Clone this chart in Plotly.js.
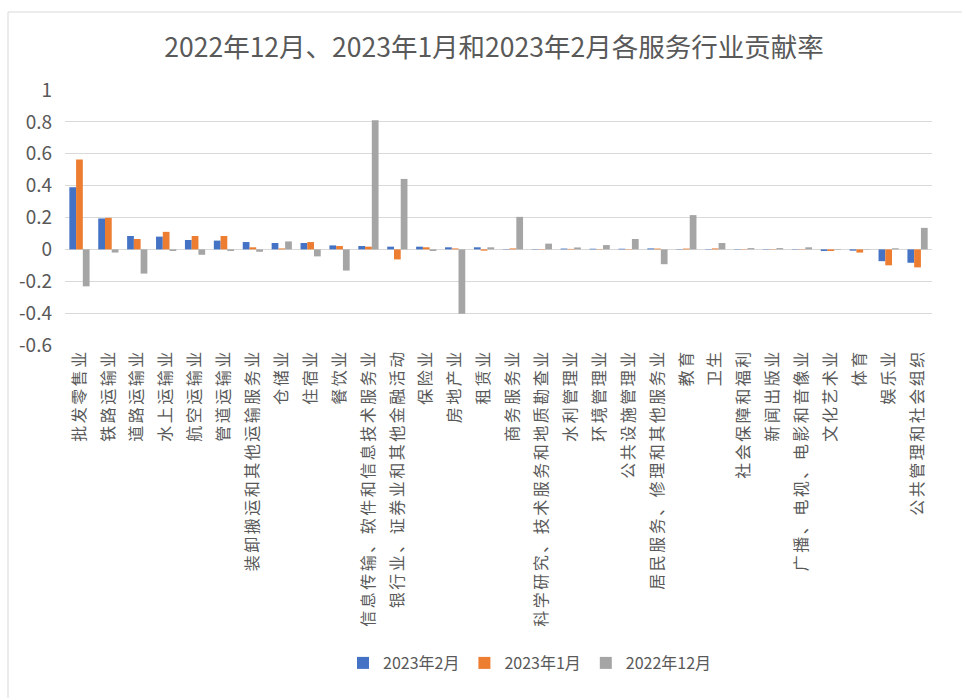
<!DOCTYPE html>
<html>
<head>
<meta charset="utf-8">
<script src="https://cdn.plot.ly/plotly-3.0.1.min.js"></script>
<style>
html,body{margin:0;padding:0;background:#fff;}
#chart{width:962px;height:698px;}
#chart .xtick text{letter-spacing:2.5px;}
</style>
</head>
<body>
<div id="chart"></div>
<script>
const categories = [
  "批发零售业","铁路运输业","道路运输业","水上运输业","航空运输业","管道运输业",
  "装卸搬运和其他运输服务业","仓储业","住宿业","餐饮业",
  "信息传输、软件和信息技术服务业","银行业、证券业和其他金融活动","保险业","房地产业","租赁业",
  "商务服务业","科学研究、技术服务和地质勘查业","水利管理业","环境管理业","公共设施管理业",
  "居民服务、修理和其他服务业","教育","卫生","社会保障和福利","新闻出版业",
  "广播、电视、电影和音像业","文化艺术业","体育","娱乐业","公共管理和社会组织"
];
const seriesNames = ["2023年2月","2023年1月","2022年12月"];
const feb2023 = [0.39,0.194,0.084,0.08,0.059,0.055,0.046,0.04,0.04,0.025,
                 0.021,0.017,0.017,0.013,0.013,0.002,0.002,0.005,0.004,0.004,
                 0.006,0.002,0.002,0.002,0.002,0.002,-0.01,-0.008,-0.074,-0.084];
const jan2023 = [0.564,0.198,0.065,0.11,0.084,0.084,0.013,0.006,0.046,0.021,
                 0.017,-0.063,0.013,0.006,-0.008,0.006,0.002,0.003,0.002,0.002,
                 0.005,0.005,0.006,0.002,0.002,0.002,-0.01,-0.02,-0.1,-0.113];
const dec2022 = [-0.232,-0.02,-0.152,-0.01,-0.034,-0.01,-0.015,0.05,-0.044,-0.133,
                 0.81,0.442,-0.01,-0.404,0.013,0.204,0.036,0.012,0.027,0.065,
                 -0.093,0.215,0.04,0.008,0.008,0.013,-0.003,0.002,0.007,0.135];
const yTicks = [-0.6,-0.4,-0.2,0,0.2,0.4,0.6,0.8,1];
const yTickLabels = ["-0.6","-0.4","-0.2","0","0.2","0.4","0.6","0.8","1"];
const colors = ["#4472C4","#ED7D31","#A5A5A5"];

const font = '"Noto Sans CJK SC", "Noto Sans", sans-serif';
const values = [feb2023, jan2023, dec2022];
const data = values.map((v,i)=>({
  type:'bar', name:seriesNames[i], x:categories, y:v,
  marker:{color:colors[i]}, hoverinfo:'x+y+name'
}));

const L=65, R=932, T=90, B=345;
const pw = R-L, ph = B-T;
const px = v => (v-L)/pw;
const py = v => (B-v)/ph;

const layout = {
  width:962, height:698,
  margin:{l:L, r:962-R, t:T, b:698-B, pad:0},
  paper_bgcolor:'#ffffff', plot_bgcolor:'#ffffff',
  font:{family:font, color:'#595959'},
  title:{text:'2022年12月、2023年1月和2023年2月各服务行业贡献率',
         font:{family:font, size:26.5, color:'#595959'},
         x:px(494), xref:'paper', xanchor:'center', y:1-48/698, yanchor:'middle'},
  barmode:'group', bargap:0.3, bargroupgap:0,
  xaxis:{type:'category', tickangle:-90, tickfont:{size:16, color:'#595959'},
         showgrid:false, showline:false, ticks:'', zeroline:false, automargin:false},
  yaxis:{range:[-0.6,1], tickvals:yTicks, ticktext:yTickLabels,
         tickfont:{size:19, color:'#595959'}, showgrid:true, gridcolor:'#d9d9d9', gridwidth:1,
         zeroline:true, zerolinecolor:'#d9d9d9', zerolinewidth:1,
         showline:false, ticks:'', ticklabelstandoff:12, automargin:false},
  showlegend:true,
  legend:{orientation:'h', x:px(530), xanchor:'center', y:py(663), yanchor:'middle',
          font:{size:16, color:'#595959'}, traceorder:'normal', itemwidth:30},
  shapes:[{type:'rect', xref:'paper', yref:'paper',
           x0:px(8), x1:px(975), y0:py(12), y1:py(710),
           line:{color:'#d9d9d9', width:1}, fillcolor:'rgba(0,0,0,0)', layer:'below'}]
};
Plotly.newPlot('chart', data, layout, {displayModeBar:false, staticPlot:true});
</script>
</body>
</html>
